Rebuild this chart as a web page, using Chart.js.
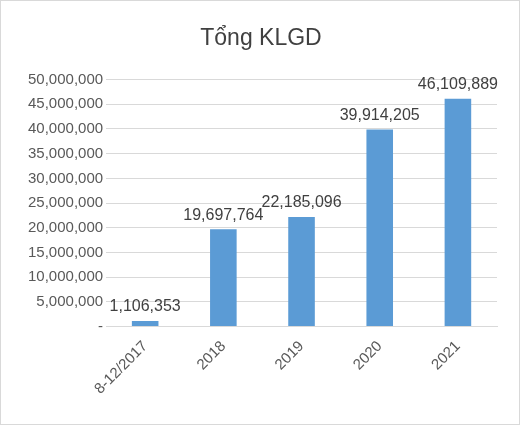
<!DOCTYPE html>
<html><head><meta charset="utf-8">
<script src="https://cdn.jsdelivr.net/npm/chart.js@4/dist/chart.umd.min.js"></script>
<style>html,body{margin:0;padding:0;background:#fff}#w{position:relative;width:518px;height:423px;border:1px solid #d9d9d9}</style>
</head><body><div id="w"><canvas id="c"></canvas></div>
<script>
const categories = ["8-12/2017","2018","2019","2020","2021"];
const values = [1106353,19697764,22185096,39914205,46109889];
const labelsPlugin = {
  id:'lbl',
  afterDatasetsDraw(chart){
    const ctx=chart.ctx; const meta=chart.getDatasetMeta(0);
    ctx.save(); ctx.font='16px "Liberation Sans", sans-serif'; ctx.fillStyle='#404040';
    ctx.textAlign='center'; ctx.textBaseline='bottom';
    meta.data.forEach((b,i)=>{ctx.fillText(values[i].toLocaleString('en-US'), b.x, b.y-6);});
    ctx.restore();
  }
};
new Chart(document.getElementById('c'),{
  type:'bar',
  data:{labels:categories,datasets:[{data:values,backgroundColor:'#5B9BD5',barPercentage:0.34,categoryPercentage:1}]},
  options:{responsive:true,maintainAspectRatio:false,animation:false,
    layout:{padding:{left:24,right:22,top:6,bottom:23}},
    plugins:{legend:{display:false},tooltip:{enabled:false},
      title:{display:true,text:'Tổng KLGD',color:'#404040',font:{size:23,family:'"Liberation Sans", sans-serif',weight:'normal'},padding:{top:18,bottom:27}}},
    scales:{
      y:{min:0,max:50000000,ticks:{stepSize:5000000,color:'#595959',font:{size:15,family:'"Liberation Sans", sans-serif'},
        callback:v=>v===0?'-':v.toLocaleString('en-US')},
        grid:{color:'#d9d9d9',drawTicks:false},border:{display:false}},
      x:{ticks:{color:'#595959',maxRotation:45,minRotation:45,font:{size:15,family:'"Liberation Sans", sans-serif'}},
        grid:{display:false},border:{color:'#d9d9d9'}}
    }}
  ,plugins:[labelsPlugin]});
</script></body></html>
